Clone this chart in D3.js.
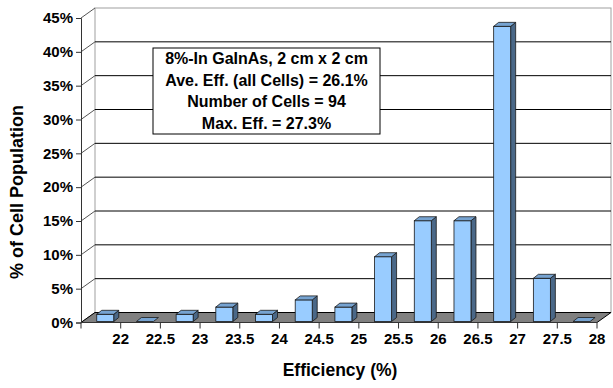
<!DOCTYPE html>
<html>
<head>
<meta charset="utf-8">
<script src="https://cdn.jsdelivr.net/npm/d3@7"></script>
<style>
  html, body { margin: 0; padding: 0; background: #fff; }
  svg text { font-family: "Liberation Sans", Arial, sans-serif; font-weight: bold; fill: #000; }
</style>
</head>
<body>
<svg id="chart" width="613" height="388"></svg>
<script>
// Efficiency bins (upper edge label) and share of cells in each bin
const binLabels = ["22", "22.5", "23", "23.5", "24", "24.5", "25", "25.5", "26", "26.5", "27", "27.5", "28"];
const cellCounts = [1, 0, 1, 2, 1, 3, 2, 9, 14, 14, 41, 6, 0];
const totalCells = 94;
const cellShare = cellCounts.map(c => c / totalCells * 100);
const yTicks = [0, 5, 10, 15, 20, 25, 30, 35, 40, 45];
const infoLines = [
  "8%-In GaInAs, 2 cm x 2 cm",
  "Ave. Eff. (all Cells) = 26.1%",
  "Number of Cells = 94",
  "Max. Eff. = 27.3%"
];

const svg = d3.select("#chart");

// front plane of the plot and oblique depth of the 3-D box
const plotL = 81, plotR = 597, plotB = 322.5, plotT = 18;
const depth = { dx: 14, dy: -10 };
const barDepth = { dx: 5, dy: -4 };

const x = d3.scaleBand().domain(d3.range(binLabels.length)).range([plotL, plotR]).paddingInner(0).paddingOuter(0);
const y = d3.scaleLinear().domain([0, 45]).range([plotB, plotT]);

// back wall
svg.append("rect")
  .attr("x", plotL + depth.dx).attr("y", y(45) + depth.dy)
  .attr("width", plotR - plotL).attr("height", plotB - y(45))
  .attr("fill", "#fff").attr("stroke", "#a0a0a0").attr("stroke-width", 1);

// gridlines on the back wall
svg.append("g").selectAll("line")
  .data(yTicks.filter(v => v > 0 && v < 45))
  .join("line")
  .attr("x1", plotL + depth.dx).attr("x2", plotR + depth.dx)
  .attr("y1", v => y(v) + depth.dy).attr("y2", v => y(v) + depth.dy)
  .attr("stroke", "#000").attr("stroke-width", 1);

// side-wall diagonals linking the value axis to the back wall
svg.append("g").selectAll("line")
  .data(yTicks)
  .join("line")
  .attr("x1", plotL).attr("x2", plotL + depth.dx)
  .attr("y1", v => y(v)).attr("y2", v => y(v) + depth.dy)
  .attr("stroke", "#555").attr("stroke-width", 1);

// floor
svg.append("polygon")
  .attr("points", [
    [plotL, plotB], [plotR, plotB],
    [plotR + depth.dx, plotB + depth.dy], [plotL + depth.dx, plotB + depth.dy]
  ].map(p => p.join(",")).join(" "))
  .attr("fill", "#808080").attr("stroke", "#000").attr("stroke-width", 1);

// value axis
const yAxis = d3.axisLeft(y).tickValues(yTicks).tickSize(5).tickPadding(3).tickFormat(d => d + "%");
const yg = svg.append("g").attr("transform", `translate(${plotL},0)`).call(yAxis);
yg.select(".domain").attr("stroke", "#333");
yg.selectAll(".tick line").attr("stroke", "#333");
yg.selectAll(".tick text").style("font-size", "15px");

// category axis: ticks at the bin edges, labels at each bin's upper edge
const edgeX = d3.range(binLabels.length + 1).map(i => plotL + i * x.bandwidth());
const xg = svg.append("g");
xg.append("line").attr("x1", plotL).attr("x2", plotR).attr("y1", plotB).attr("y2", plotB)
  .attr("stroke", "#333");
xg.selectAll("line.tick").data(edgeX).join("line").attr("class", "tick")
  .attr("x1", d => d).attr("x2", d => d).attr("y1", plotB).attr("y2", plotB + 6)
  .attr("stroke", "#333");
xg.selectAll("text").data(binLabels).join("text")
  .attr("x", (d, i) => x(i) + x.bandwidth())
  .attr("y", 344)
  .attr("text-anchor", "middle")
  .style("font-size", "15px")
  .text(d => d);

// 3-D columns
const bw = 17, shiftX = 4.4, barBase = plotB - 1;
const bars = svg.append("g").selectAll("g").data(cellShare).join("g");
bars.each(function (v, i) {
  const g = d3.select(this);
  const x0 = x(i) + (x.bandwidth() - bw) / 2 + shiftX;
  const x1 = x0 + bw;
  const yTop = barBase - (y(0) - y(v));
  const dx = barDepth.dx, dy = barDepth.dy;
  if (v > 0) {
    g.append("polygon")
      .attr("points", `${x1},${barBase} ${x1 + dx},${barBase + dy} ${x1 + dx},${yTop + dy} ${x1},${yTop}`)
      .attr("fill", "#4a6888").attr("stroke", "#1a1a1a").attr("stroke-width", 0.8).attr("stroke-linejoin", "round");
    g.append("rect")
      .attr("x", x0).attr("y", yTop).attr("width", bw).attr("height", barBase - yTop)
      .attr("fill", "#99ccff").attr("stroke", "#1a1a1a").attr("stroke-width", 0.8);
  }
  g.append("polygon")
    .attr("points", `${x0},${yTop} ${x1},${yTop} ${x1 + dx},${yTop + dy} ${x0 + dx},${yTop + dy}`)
    .attr("fill", "#76a3d1").attr("stroke", "#1a1a1a").attr("stroke-width", 0.8).attr("stroke-linejoin", "round");
});

// summary box
const box = svg.append("g");
box.append("rect").attr("x", 153).attr("y", 48).attr("width", 227).attr("height", 86)
  .attr("fill", "#fff").attr("stroke", "#000").attr("stroke-width", 1);
box.selectAll("text").data(infoLines).join("text")
  .attr("x", 266.5).attr("y", (d, i) => 64 + i * 21.6)
  .attr("text-anchor", "middle")
  .style("font-size", "16px")
  .text(d => d);

// axis titles
svg.append("text")
  .attr("transform", "translate(23,192) rotate(-90)")
  .attr("text-anchor", "middle")
  .style("font-size", "18px")
  .text("% of Cell Population");
svg.append("text")
  .attr("x", 340).attr("y", 376)
  .attr("text-anchor", "middle")
  .style("font-size", "17.5px")
  .text("Efficiency (%)");
</script>
</body>
</html>
